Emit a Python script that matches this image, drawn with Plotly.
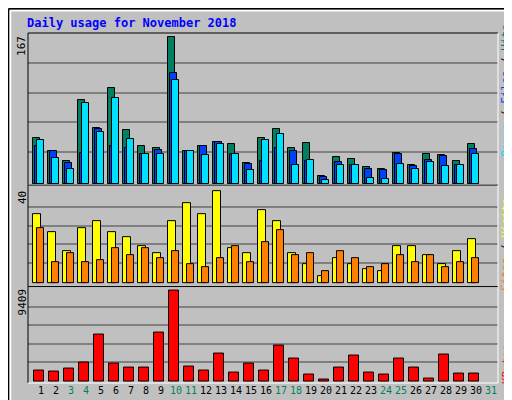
import plotly.graph_objects as go

days = list(range(1, 32))
hits = [52,38,26,96,64,109,61,43,41,167,38,43,48,46,24,52,63,41,47,9,31,28,19,17,35,22,34,33,26,45,None]
files = [43,38,24,35,63,43,41,34,39,126,38,43,48,34,23,26,41,37,26,8,25,22,17,16,34,20,27,32,22,40,None]
pages = [50,29,17,92,59,98,51,34,34,119,37,33,46,34,16,50,57,22,27,4,21,21,7,6,23,17,25,20,22,34,None]
visits = [30,22,14,24,27,22,20,16,13,27,35,30,40,15,13,32,27,13,8,3,11,8,6,5,16,16,12,8,14,19,None]
sites = [24,9,13,9,10,15,12,15,11,14,8,7,11,16,9,18,23,12,13,5,14,11,7,8,12,9,12,7,9,11,None]
kbytes = [1168,1065,1373,1992,4876,1889,1477,1477,5082,9409,1580,1168,2919,962,1889,1168,3743,2404,755,240,1477,2713,962,755,2404,1477,343,2816,858,858,None]
weekend = {3,4,10,11,17,18,24,25,31}
max_hits, max_visits, max_kb = 167, 40, 9409

L, R, T, B = 20, 490, 25, 377
def px(x): return (x - L) / (R - L)
def py(y): return (B - y) / (B - T)

fig = go.Figure()
def bar(y, off, w, color, yaxis):
    fig.add_trace(go.Bar(x=days, y=y, width=w, offset=off - w / 2, marker=dict(color=color, line=dict(color="black", width=1)),
                         yaxis=yaxis, showlegend=False, hoverinfo="skip"))
bar(hits, -0.3, 0.47, "#008060", "y3")
bar(files, -0.167, 0.47, "#0040FF", "y3")
bar(pages, -0.033, 0.47, "#00E0FF", "y3")
bar(visits, -0.27, 0.53, "#FFFF00", "y2")
bar(sites, -0.033, 0.47, "#FF8000", "y2")
bar(kbytes, -0.13, 0.67, "#FF0000", "y")

fr = [0.215, 0.42, 0.623, 0.826]
gridc = "#808080"
ax = dict(showline=False, zeroline=False, showticklabels=False, showgrid=True, gridcolor=gridc, gridwidth=1.5, fixedrange=True)
d1, d2 = py(280), py(178)
fig.update_layout(
    width=512, height=400, margin=dict(l=L, r=512 - R, t=T, b=400 - B),
    paper_bgcolor="#C0C0C0", plot_bgcolor="#C0C0C0", barmode="overlay", bargap=0,
    xaxis=dict(range=[1 - 13 / 15, 31 + 7 / 15], tickvals=days, showgrid=False, zeroline=False, ticks="", tickangle=0,
               ticktext=[f'<span style="color:#008060">{d}</span>' if d in weekend else str(d) for d in days],
               tickfont=dict(family="DejaVu Sans Mono", size=10, color="black"), fixedrange=True),
    yaxis=dict(domain=[0, d1], range=[-134, 9851], tickvals=[max_kb * f for f in fr], **ax),
    yaxis2=dict(domain=[d1, d2], range=[-1.6, 42.7], tickvals=[max_visits * f for f in fr], **ax),
    yaxis3=dict(domain=[d2, 1], range=[-1.5, 172.1], tickvals=[max_hits * f for f in fr], **ax),
)

shapes = []
def line(x0, y0, x1, y1, c, w=1):
    shapes.append(dict(type="line", xref="paper", yref="paper", x0=px(x0), y0=py(y0), x1=px(x1), y1=py(y1), line=dict(color=c, width=w)))
line(0.5, 0.5, 511.5, 0.5, "black", 1.5); line(0.5, 0.5, 0.5, 399.5, "black", 1.5)
line(511.5, 0.5, 511.5, 399.5, "black", 1.5); line(0.5, 399.5, 511.5, 399.5, "black", 1.5)
line(2.5, 2.5, 505, 2.5, "white", 1.5); line(2.5, 2.5, 2.5, 395, "white", 1.5)
shapes.append(dict(type="rect", xref="paper", yref="paper", x0=px(505), x1=px(510.5), y0=py(395), y1=py(2), fillcolor="#808080", line_width=0))
shapes.append(dict(type="rect", xref="paper", yref="paper", x0=px(4), x1=px(510.5), y0=py(398.5), y1=py(395), fillcolor="#808080", line_width=0))
for top, bot in [(25, 178), (178, 280), (280, 377)]:
    line(20, top, 490, top, "black"); line(20, top, 20, bot, "black")
    line(490, top, 490, bot, "white"); line(20, bot, 490, bot, "white")
fig.update_layout(shapes=shapes)

mono = "DejaVu Sans Mono"
f11 = dict(family=mono, size=11, color="black")
ann = [
    dict(x=px(17), y=py(15), text="<b>Daily usage for November 2018</b>", xanchor="left", yanchor="middle",
         font=dict(family=mono, size=12, color="#0000FF")),
    dict(x=px(14), y=py(38), text=str(max_hits), textangle=-90, xanchor="center", yanchor="middle", font=f11),
    dict(x=px(14), y=py(191), text=str(max_visits), textangle=-90, xanchor="center", yanchor="middle", font=f11),
    dict(x=px(14), y=py(296), text=str(max_kb), textangle=-90, xanchor="center", yanchor="middle", font=f11),
    dict(x=px(498), y=py(83), text='<span style="color:#00E0FF">Pages</span> / <span style="color:#0040FF">Files</span> / <span style="color:#008060">Hits</span>',
         textangle=-90, xanchor="center", yanchor="middle", font=f11),
    dict(x=px(498), y=py(238), text='<span style="color:#FF8000">Sites</span> / <span style="color:#FFFF00">Visits</span>',
         textangle=-90, xanchor="center", yanchor="middle", font=f11),
    dict(x=px(498), y=py(358), text='<span style="color:#FF0000">KBytes</span>',
         textangle=-90, xanchor="center", yanchor="middle", font=f11),
]
for a in ann:
    a.update(xref="paper", yref="paper", showarrow=False)
fig.update_layout(annotations=ann)
fig.write_html("out.html", config={"displayModeBar": False})
